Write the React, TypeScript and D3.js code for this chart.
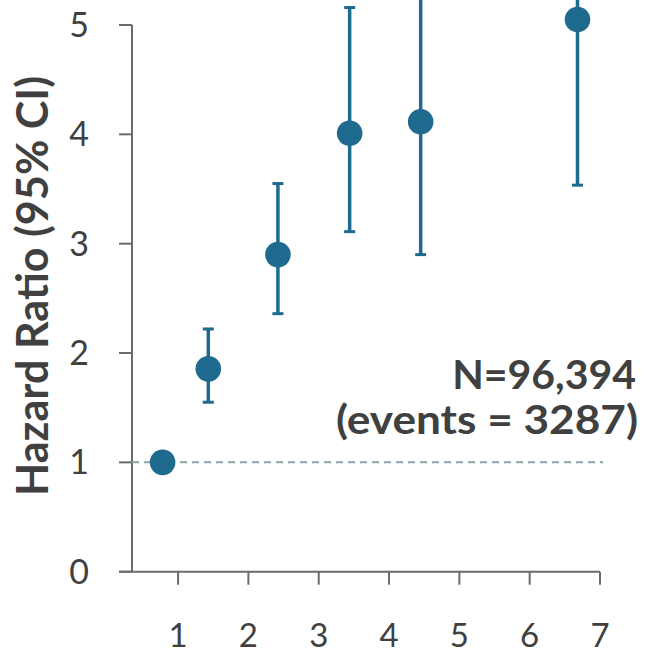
import React from "react";
import * as d3 from "d3";

const xTicks = [1, 2, 3, 4, 5, 6, 7];
const yTicks = [0, 1, 2, 3, 4, 5];
const pointX = [0.78, 1.43, 2.42, 3.44, 4.45, 6.68];
const hazard = [1.0, 1.855, 2.9, 4.01, 4.115, 5.05];
const ciLower = [NaN, 1.55, 2.36, 3.11, 2.9, 3.535];
const ciUpper = [NaN, 2.22, 3.55, 5.16, 5.9, 6.6];
const annotation = ["N=96,394", "(events = 3287)"];
const yTitle = "Hazard Ratio (95% CI)";

const W = 646;
const H = 654;
const color = "#1f6a8f";
const textColor = "#404040";
const axisColor = "#6b6b6b";
const font = "Lato, 'Open Sans', sans-serif";

export default function App() {
  const x = d3.scaleLinear().domain([0.345, 7]).range([132, 600]);
  const y = d3.scaleLinear().domain([0, 5]).range([571.7, 25]);
  const x0 = x.range()[0];
  return (
    <svg width={W} height={H} style={{ position: "absolute", left: 0, top: 0 }}>
      <rect width={W} height={H} fill="#fff" />
      {/* y axis */}
      <line x1={x0} x2={x0} y1={y(0)} y2={y(5)} stroke={axisColor} strokeWidth={2} />
      {yTicks.map((t) => (
        <g key={"yt" + t}>
          <line x1={x0 - 13} x2={x0} y1={y(t)} y2={y(t)} stroke={axisColor} strokeWidth={2} />
          <text x={89} y={y(t)} dy="0.35em" textAnchor="end" fontFamily={font} fontSize={34} fill={textColor}>
            {t}
          </text>
        </g>
      ))}
      {/* x axis */}
      <line x1={x0 - 13} x2={x(7)} y1={y(0)} y2={y(0)} stroke={axisColor} strokeWidth={2} />
      {xTicks.map((t) => (
        <g key={"xt" + t}>
          <line x1={x(t)} x2={x(t)} y1={y(0)} y2={y(0) + 13} stroke={axisColor} strokeWidth={2} />
          <text x={x(t)} y={647} textAnchor="middle" fontFamily={font} fontSize={33} fill={textColor}>
            {t}
          </text>
        </g>
      ))}
      {/* reference line */}
      <line x1={x0} x2={603} y1={y(1)} y2={y(1)} stroke="#8fa3ad" strokeWidth={2} strokeDasharray="7,5" />
      {/* error bars */}
      {pointX.map((px, i) =>
        isNaN(ciLower[i]) ? null : (
          <g key={"ci" + i} stroke={color}>
            <line x1={x(px)} x2={x(px)} y1={y(ciLower[i])} y2={y(ciUpper[i])} strokeWidth={3.5} />
            <line x1={x(px) - 5.5} x2={x(px) + 5.5} y1={y(ciLower[i])} y2={y(ciLower[i])} strokeWidth={3} />
            <line x1={x(px) - 5.5} x2={x(px) + 5.5} y1={y(ciUpper[i])} y2={y(ciUpper[i])} strokeWidth={3} />
          </g>
        )
      )}
      {pointX.map((px, i) => (
        <circle key={"p" + i} cx={x(px)} cy={y(hazard[i])} r={12.8} fill={color} />
      ))}
      {/* annotation */}
      <text x={636} y={389} textAnchor="end" fontFamily={font} fontWeight="bold" fontSize={41} fill={textColor}>
        {annotation[0]}
      </text>
      <text x={638} y={434} textAnchor="end" fontFamily={font} fontWeight="bold" fontSize={41} fill={textColor} textLength={302} lengthAdjust="spacingAndGlyphs">
        {annotation[1]}
      </text>
      {/* y title */}
      <text
        transform={`translate(33,286) rotate(-90)`}
        textAnchor="middle"
        dy="0.36em"
        fontFamily={font}
        fontWeight="bold"
        fontSize={43}
        fill={textColor}
        textLength={420}
        lengthAdjust="spacingAndGlyphs"
      >
        {yTitle}
      </text>
    </svg>
  );
}
